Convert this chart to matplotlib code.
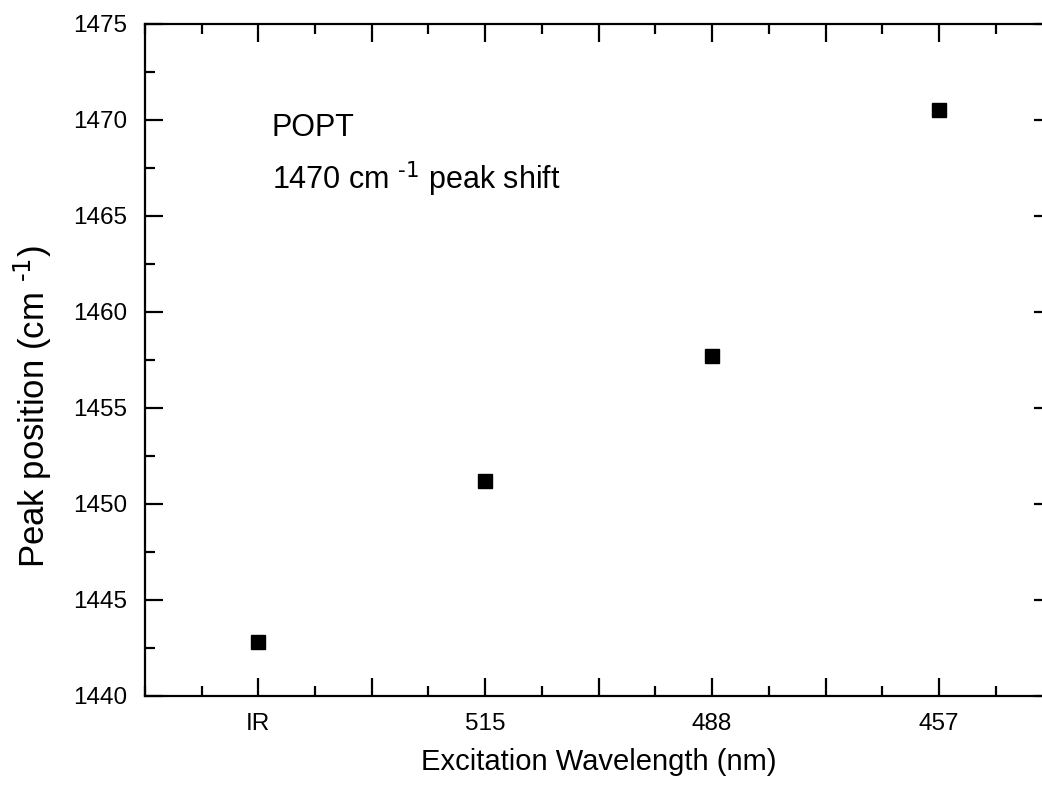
import matplotlib

matplotlib.use("Agg")
import matplotlib.pyplot as plt
from matplotlib.ticker import MultipleLocator, FixedLocator, FixedFormatter

plt.rcParams["font.family"] = ["Liberation Sans", "DejaVu Sans"]
plt.rcParams["mathtext.default"] = "regular"

categories = ["IR", "515", "488", "457"]
peak_position = [1442.8, 1451.2, 1457.7, 1470.5]

positions = list(range(1, len(categories) + 1))

fig = plt.figure(figsize=(10.42, 7.89), dpi=100)
ax = fig.add_axes([0.139, 0.118, 0.871, 0.852])

ax.plot(positions, peak_position, "s", color="black", markersize=10, clip_on=False)

ax.set_xlim(0.5, 4.5)
ax.set_ylim(1440, 1475)

# major ticks every half step, labels only on the categories
ax.xaxis.set_major_locator(FixedLocator([p / 2 for p in range(2, 10)]))
ax.xaxis.set_major_formatter(FixedFormatter(
    [categories[i // 2] if i % 2 == 0 else "" for i in range(8)]))
ax.xaxis.set_minor_locator(MultipleLocator(0.25))
ax.yaxis.set_major_locator(MultipleLocator(5))
ax.yaxis.set_minor_locator(MultipleLocator(2.5))

ax.tick_params(which="both", direction="in", top=True, right=True,
               width=1.6, labelsize=17.5)
ax.tick_params(axis="y", pad=13)
ax.tick_params(axis="x", pad=12)
ax.tick_params(which="major", length=13)
ax.tick_params(which="minor", length=7)
for spine in ax.spines.values():
    spine.set_linewidth(1.6)

ax.set_xlabel("Excitation Wavelength (nm)", fontsize=21, labelpad=10)
ax.set_ylabel(r"Peak position (cm $^{\text{-1}}$)", fontsize=25)
ax.yaxis.set_label_coords(-0.100, 0.43)

ax.text(0.140, 0.845, "POPT", transform=ax.transAxes, fontsize=22, va="center")
ax.text(0.140, 0.768, r"1470 cm $^{\text{-1}}$ peak shift", transform=ax.transAxes,
        fontsize=22, va="center")

fig.savefig("out.png", dpi=100)
